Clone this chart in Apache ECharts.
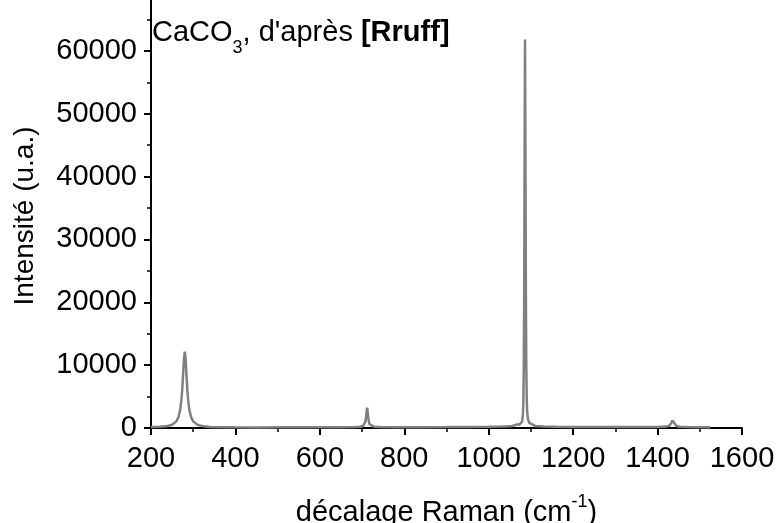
<!DOCTYPE html>
<html>
<head>
<meta charset="utf-8">
<script src="https://cdn.jsdelivr.net/npm/echarts@6/dist/echarts.min.js"></script>
<style>
  html, body { margin: 0; padding: 0; background: #fff; }
  #spectre { width: 778px; height: 523px; }
</style>
</head>
<body>
<div id="spectre"></div>
<script>
var ramanShift = [200, 220, 235, 250, 260, 265, 269, 272, 274, 276, 278, 280, 282, 284, 286, 288, 291, 295, 300, 310, 325, 340, 370,
    400, 450, 500, 550, 600, 650, 680, 695, 702, 706, 708, 710, 711, 712, 713, 714, 716, 718, 722, 729, 745, 780,
    850, 900, 950, 1000, 1030, 1040, 1055, 1062, 1065, 1067, 1069, 1072, 1076, 1079, 1081, 1082, 1083, 1084, 1085, 1086,
    1087, 1088, 1089, 1090, 1091, 1093, 1096, 1100, 1110, 1130, 1160, 1200, 1250, 1300, 1350, 1400, 1420, 1428, 1431,
    1433, 1435, 1436, 1437, 1439, 1441, 1444, 1452, 1470, 1500, 1525];
// intensité (u.a.)
var intensity = [170, 180, 260, 520, 1050, 1720, 2840, 4420, 6120, 8460, 10990, 12150, 10990, 8460, 6120, 4420, 2840, 1720, 1050, 520, 260, 170, 120,
    100, 90, 100, 110, 110, 120, 140, 190, 310, 590, 1000, 2020, 2800, 3230, 2800, 2020, 1000, 590, 310, 190, 140, 130,
    130, 140, 160, 190, 230, 250, 330, 420, 560, 580, 480, 500, 650, 1000, 2200, 4000, 9000, 20000, 42000, 61800,
    45000, 22000, 10000, 5000, 2700, 1400, 800, 500, 320, 220, 180, 160, 150, 150, 150, 170, 220, 350, 560,
    850, 1200, 1300, 1200, 850, 560, 350, 200, 150, 120, 110];

var yMajor = [0, 10000, 20000, 30000, 40000, 50000, 60000];
var yMinor = [5000, 15000, 25000, 35000, 45000, 55000, 65000];

var points = ramanShift.map(function (x, i) { return [x, intensity[i]]; });

var police = 'Liberation Sans, Arial, sans-serif';
var sansVirgule = function (v) { return String(v); };
var spectre = echarts.init(document.getElementById('spectre'));
var spectreOption = {
    animation: false,
    grid: { left: 151, right: 36, top: 0, bottom: 91, containLabel: false, outerBoundsMode: 'none' },
    graphic: [
        {
            type: 'text',
            left: 152,
            top: 18,
            style: {
                text: '{n|CaCO}{sub|3}{n|, d\'après }{b|[Rruff]}',
                rich: {
                    n: { fontFamily: police, fontSize: 29, lineHeight: 30, verticalAlign: 'top', fill: '#000' },
                    sub: { fontFamily: police, fontSize: 18, lineHeight: 18, padding: [21, 0, 0, 0], verticalAlign: 'top', fill: '#000' },
                    b: { fontFamily: police, fontSize: 29, lineHeight: 30, fontWeight: 'bold', verticalAlign: 'top', fill: '#000' }
                }
            }
        }
    ],
    xAxis: {
        type: 'value',
        min: 200,
        max: 1600,
        interval: 200,
        name: '{n|décalage Raman (cm}{sup|-1}{n|)}',
        nameLocation: 'middle',
        nameGap: 61,
        nameTextStyle: {
            rich: {
                n: { fontFamily: police, fontSize: 29, lineHeight: 34, verticalAlign: 'bottom', color: '#000' },
                sup: { fontFamily: police, fontSize: 18, lineHeight: 18, verticalAlign: 'top', color: '#000' }
            }
        },
        axisLine: { lineStyle: { color: '#000', width: 2 } },
        axisTick: { length: 7, lineStyle: { color: '#000', width: 2 } },
        minorTick: { show: true, splitNumber: 2, length: 4, lineStyle: { color: '#000', width: 1.5 } },
        splitLine: { show: false },
        axisLabel: { color: '#000', fontFamily: police, fontSize: 29, margin: 12, formatter: sansVirgule }
    },
    yAxis: [
        {
            type: 'value',
            min: -640,
            max: 68100,
            name: 'Intensité (u.a.)',
            nameLocation: 'middle',
            nameGap: 112,
            nameTextStyle: { color: '#000', fontFamily: police, fontSize: 28 },
            axisLine: { show: true, lineStyle: { color: '#000', width: 2 } },
            axisTick: { show: true, length: 7, customValues: yMajor, lineStyle: { color: '#000', width: 2 } },
            axisLabel: { color: '#000', fontFamily: police, fontSize: 29, margin: 14, customValues: yMajor, formatter: sansVirgule },
            splitLine: { show: false }
        },
        {
            type: 'value',
            min: -640,
            max: 68100,
            position: 'left',
            axisLine: { show: false },
            axisTick: { show: true, length: 4, customValues: yMinor, lineStyle: { color: '#000', width: 1.5 } },
            axisLabel: { show: false, customValues: yMinor },
            splitLine: { show: false }
        }
    ],
    series: [
        {
            type: 'line',
            data: points,
            yAxisIndex: 0,
            showSymbol: false,
            lineStyle: { color: '#808080', width: 2.5 }
        }
    ]
};
spectre.setOption(spectreOption);
window.addEventListener('resize', function () {
    spectre.resize();
});
</script>
</body>
</html>
